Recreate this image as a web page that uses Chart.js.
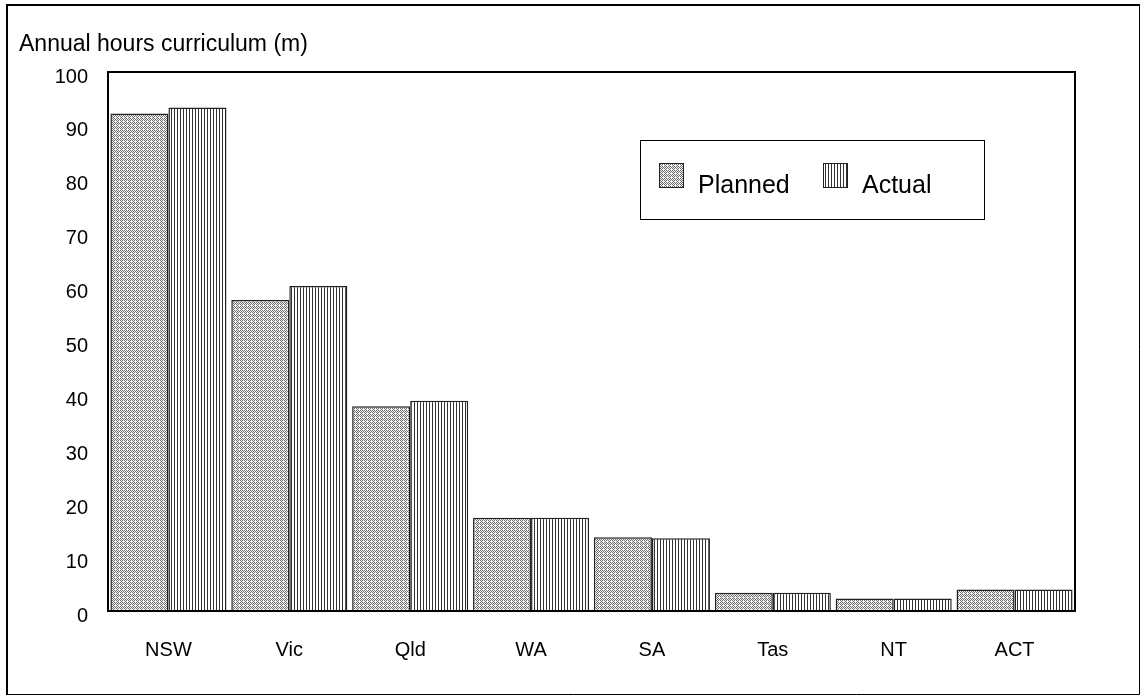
<!DOCTYPE html>
<html>
<head>
<meta charset="utf-8">
<script src="https://cdn.jsdelivr.net/npm/chart.js@4/dist/chart.umd.min.js"></script>
<style>
    body { margin: 0; background: #fff; }
    #wrap { width: 1140px; height: 695px; position: relative; }
</style>
</head>
<body>
<div id="wrap"><canvas id="hoursChart" width="1140" height="695"></canvas></div>
<script>
const categories = ['NSW', 'Vic', 'Qld', 'WA', 'SA', 'Tas', 'NT', 'ACT'];
const plannedHours = [92.3, 57.7, 38.0, 17.3, 13.7, 3.4, 2.3, 4.0];
const actualHours = [93.4, 60.3, 39.0, 17.3, 13.5, 3.4, 2.3, 4.0];
const yTicks = [0, 10, 20, 30, 40, 50, 60, 70, 80, 90, 100];
const titleText = 'Annual hours curriculum (m)';

const FONT = 'Arial, "Liberation Sans", sans-serif';

// fine dotted grey fill for Planned
function makeDotPattern() {
    const c = document.createElement('canvas');
    c.width = 4; c.height = 4;
    const g = c.getContext('2d');
    g.fillStyle = '#f4f4f4';
    g.fillRect(0, 0, 4, 4);
    g.fillStyle = '#6e6e6e';
    const dots = [[0,0],[2,0],[1,1],[0,2],[2,2],[3,3],[1,3]];
    dots.forEach(d => g.fillRect(d[0], d[1], 1, 1));
    return g.createPattern(c, 'repeat');
}

// vertical stripes for Actual
function makeStripePattern() {
    const c = document.createElement('canvas');
    c.width = 3; c.height = 3;
    const g = c.getContext('2d');
    g.fillStyle = '#ffffff';
    g.fillRect(0, 0, 3, 3);
    g.fillStyle = '#333333';
    g.fillRect(0, 0, 1, 3);
    return g.createPattern(c, 'repeat');
}

const plannedFill = makeDotPattern();
const actualFill = makeStripePattern();

const framePlugin = {
    id: 'frame',
    afterDraw(chart) {
        const ctx = chart.ctx;
        const a = chart.chartArea;
        ctx.save();
        ctx.strokeStyle = '#000';
        // outer frame
        ctx.lineWidth = 2;
        ctx.beginPath();
        ctx.moveTo(7, 695);
        ctx.lineTo(7, 5);
        ctx.lineTo(1140, 5);
        ctx.stroke();
        ctx.lineWidth = 1;
        ctx.beginPath();
        ctx.moveTo(1139.5, 5);
        ctx.lineTo(1139.5, 694.5);
        ctx.lineTo(7, 694.5);
        ctx.stroke();
        // plot box
        ctx.lineWidth = 2;
        ctx.strokeRect(a.left, a.top, a.right - a.left, a.bottom - a.top);
        // axis title
        ctx.fillStyle = '#000';
        ctx.font = '23px ' + FONT;
        ctx.textBaseline = 'alphabetic';
        ctx.fillText(titleText, 19, 51);
        ctx.restore();
    }
};

const boxLegendPlugin = {
    id: 'boxLegend',
    afterDraw(chart) {
        const ctx = chart.ctx;
        ctx.save();
        ctx.fillStyle = '#fff';
        ctx.fillRect(640, 140, 344, 79);
        ctx.strokeStyle = '#000';
        ctx.lineWidth = 1;
        ctx.strokeRect(640.5, 140.5, 344, 79);
        const xs = [659, 823];
        chart.data.datasets.forEach((ds, i) => {
            ctx.fillStyle = ds.backgroundColor;
            ctx.fillRect(xs[i], 163, 24, 24);
            ctx.strokeStyle = '#222';
            ctx.strokeRect(xs[i] + 0.5, 163.5, 24, 24);
            ctx.fillStyle = '#000';
            ctx.font = '25px ' + FONT;
            ctx.textBaseline = 'alphabetic';
            ctx.fillText(ds.label, xs[i] + 39, 193);
        });
        ctx.restore();
    }
};

new Chart(document.getElementById('hoursChart'), {
    type: 'bar',
    data: {
        labels: categories,
        datasets: [
            {
                label: 'Planned',
                data: plannedHours,
                backgroundColor: plannedFill,
                borderColor: '#222',
                borderWidth: 1.5,
                borderSkipped: 'bottom'
            },
            {
                label: 'Actual',
                data: actualHours,
                backgroundColor: actualFill,
                borderColor: '#222',
                borderWidth: 1.5,
                borderSkipped: 'bottom'
            }
        ]
    },
    options: {
        responsive: false,
        animation: false,
        events: [],
        layout: { padding: { left: 0, top: 72, right: 65, bottom: 0 } },
        datasets: { bar: { categoryPercentage: 0.96, barPercentage: 1.0 } },
        plugins: {
            legend: { display: false },
            tooltip: { enabled: false }
        },
        scales: {
            x: {
                grid: { display: false, drawTicks: false },
                border: { display: false },
                ticks: { color: '#000', font: { family: FONT, size: 20 }, padding: 27, maxRotation: 0 },
                afterFit(scale) { scale.height = 84; }
            },
            y: {
                min: 0,
                max: 100,
                afterBuildTicks(scale) { scale.ticks = yTicks.map(v => ({ value: v })); },
                grid: { display: false, drawTicks: false },
                border: { display: false },
                ticks: { color: '#000', font: { family: FONT, size: 20 }, padding: 20, labelOffset: 5 },
                afterFit(scale) { scale.width = 108; }
            }
        }
    },
    plugins: [framePlugin, boxLegendPlugin]
});
</script>
</body>
</html>
